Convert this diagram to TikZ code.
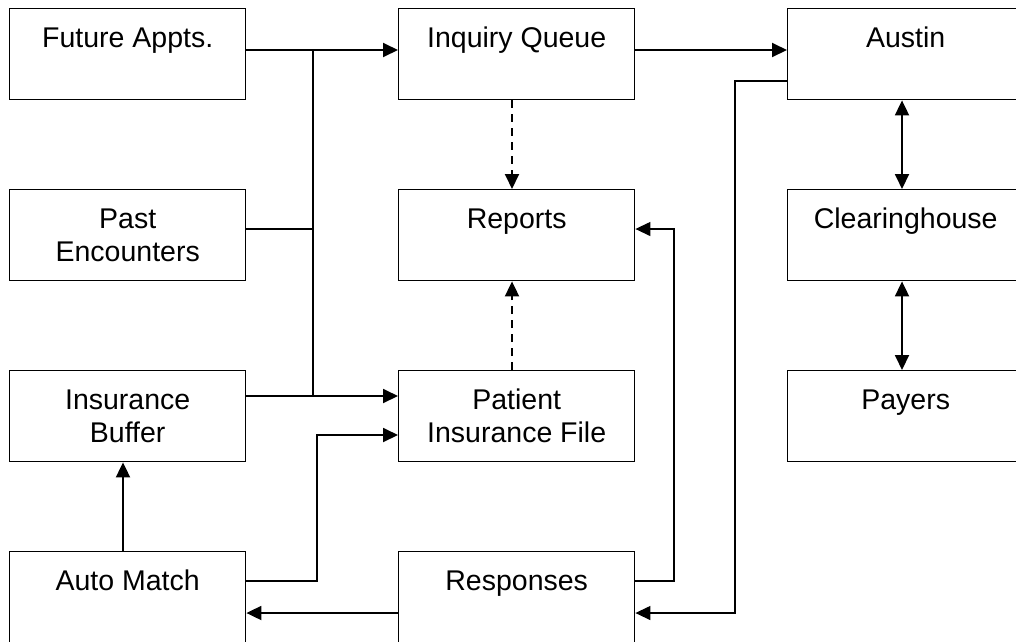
\documentclass[tikz,border=0pt]{standalone}
\usepackage{fontspec}
\setmainfont{Liberation Sans}
\usetikzlibrary{arrows.meta}
\newcommand\tstrut{\rule{0pt}{29.1pt}}
\begin{document}
\begin{tikzpicture}[x=1pt,y=-1pt,
  box/.style={draw, line width=1.4pt, minimum width=236pt, minimum height=91pt,
    inner sep=0pt, anchor=north west, align=center,
    font=\fontsize{28.5}{33}\selectfont},
  tip/.style={-{Triangle[length=15pt,width=14pt]}},
  bitip/.style={{Triangle[length=15pt,width=14pt]}-{Triangle[length=15pt,width=14pt]}},
  arr/.style={tip, line width=1.9pt},
  arrthin/.style={tip, line width=1.3pt},
  plain/.style={line width=1.3pt},
  dasharr/.style={tip, line width=1.9pt, dash pattern=on 8pt off 6pt},
  biarr/.style={bitip, line width=1.9pt}]
\useasboundingbox (0,0) rectangle (1016,641);
% boxes
\node[box] (fa)  at (9,8)     {\tstrut Future Appts.\\\strut};
\node[box] (iq)  at (398,8)   {\tstrut Inquiry Queue\\\strut};
\node[box] (au)  at (787,8)   {\tstrut Austin\\\strut};
\node[box] (pe)  at (9,189)   {\tstrut Past\\Encounters\strut};
\node[box] (rp)  at (398,189) {\tstrut Reports\\\strut};
\node[box] (ch)  at (787,189) {\tstrut Clearinghouse\\\strut};
\node[box] (ib)  at (9,370)   {\tstrut Insurance\\Buffer\strut};
\node[box] (pif) at (398,370) {\tstrut Patient\\Insurance File\strut};
\node[box] (py)  at (787,370) {\tstrut Payers\\\strut};
\node[box] (am)  at (9,551)   {\tstrut Auto Match\\\strut};
\node[box] (rs)  at (398,551) {\tstrut Responses\\\strut};
% helper levels
\coordinate (r1)  at (0,50);
\coordinate (r1b) at (0,81);
\coordinate (r2)  at (0,229);
\coordinate (r3a) at (0,396);
\coordinate (r3b) at (0,435);
\coordinate (r4a) at (0,581);
\coordinate (r4b) at (0,613);
\coordinate (tk)  at (313,0);
\coordinate (j2)  at (317,0);
\coordinate (c1)  at (123,0);
\coordinate (c2)  at (735,0);
\coordinate (c3)  at (674,0);
\coordinate (c4)  at (512,0);
\coordinate (c5)  at (902,0);
% connectors
\draw[arr] (fa.east |- r1) -- (iq.west |- r1);
\draw[plain] (tk |- r1) -- (tk |- r3a);
\draw[plain] (pe.east |- r2) -- (tk |- r2);
\draw[arr] (ib.east |- r3a) -- (pif.west |- r3a);
\draw[arr] (am.east |- r4a) -| (j2 |- r3b) -- (pif.west |- r3b);
\draw[arr] (am.north -| c1) -- (ib.south -| c1);
\draw[arr] (rs.west |- r4b) -- (am.east |- r4b);
\draw[arr] (iq.east |- r1) -- (au.west |- r1);
\draw[arrthin] (au.west |- r1b) -| (c2 |- r4b) -- (rs.east |- r4b);
\draw[arrthin] (rs.east |- r4a) -| (c3 |- r2) -- (rp.east |- r2);
\draw[dasharr] (iq.south -| c4) -- (rp.north -| c4);
\draw[dasharr] (pif.north -| c4) -- (rp.south -| c4);
\draw[biarr] (au.south -| c5) -- (ch.north -| c5);
\draw[biarr] (ch.south -| c5) -- (py.north -| c5);
\end{tikzpicture}
\end{document}
